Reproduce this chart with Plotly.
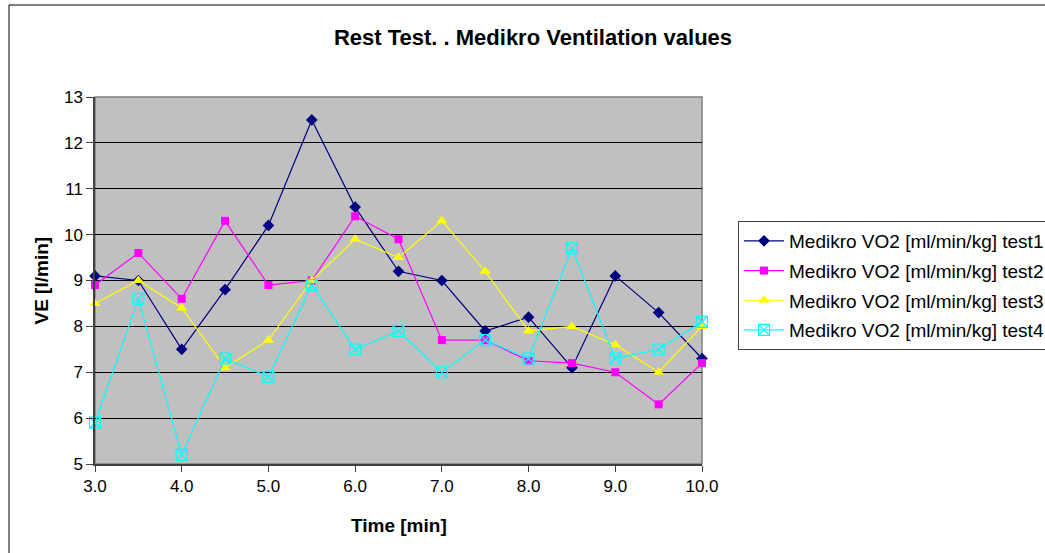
import plotly.graph_objects as go

time_min = [3.0, 3.5, 4.0, 4.5, 5.0, 5.5, 6.0, 6.5, 7.0, 7.5, 8.0, 8.5, 9.0, 9.5, 10.0]
test1 = [9.1, 9.0, 7.5, 8.8, 10.2, 12.5, 10.6, 9.2, 9.0, 7.9, 8.2, 7.1, 9.1, 8.3, 7.3]
test2 = [8.9, 9.6, 8.6, 10.3, 8.9, 9.0, 10.4, 9.9, 7.7, 7.7, 7.25, 7.2, 7.0, 6.3, 7.2]
test3 = [8.5, 9.0, 8.4, 7.1, 7.7, 9.0, 9.9, 9.5, 10.3, 9.2, 7.9, 8.0, 7.6, 7.0, 8.0]
test4 = [5.9, 8.6, 5.2, 7.3, 6.9, 8.9, 7.5, 7.9, 7.0, 7.7, 7.3, 9.7, 7.3, 7.5, 8.1]
names = ["Medikro VO2 [ml/min/kg] test1", "Medikro VO2 [ml/min/kg] test2",
         "Medikro VO2 [ml/min/kg] test3", "Medikro VO2 [ml/min/kg] test4"]

FONT = "Arial, Liberation Sans, sans-serif"

styles = [
    dict(color="#000080", symbol="diamond", size=9, lw=1.2),
    dict(color="#FF00FF", symbol="square", size=8, lw=1.2),
    dict(color="#FFFF00", symbol="triangle-up", size=10, lw=1.2),
    dict(color="#00FFFF", symbol="square-x-open", size=11, lw=1.2),
]

fig = go.Figure()
for i, (series, name, st) in enumerate(zip([test1, test2, test3, test4], names, styles)):
    marker = dict(symbol=st["symbol"], size=st["size"], color=st["color"])
    if st["symbol"].endswith("open"):
        marker["line"] = dict(color=st["color"], width=1.2)
    else:
        marker["line"] = dict(width=0)
    fig.add_trace(go.Scatter(
        x=time_min, y=series, name=name, mode="lines+markers",
        legendgroup="g%d" % i,
        line=dict(color=st["color"], width=st["lw"]),
        marker=marker, cliponaxis=False,
    ))

PL, PR, PT, PB = 95, 702, 97, 464
W, H = 1045, 553

def px_x(px):
    return (px - PL) / (PR - PL)

def px_y(py):
    return (PB - py) / (PB - PT)

fig.update_layout(
    width=W, height=H,
    margin=dict(l=PL, r=W - PR, t=PT, b=H - PB, pad=0, autoexpand=False),
    paper_bgcolor="white",
    plot_bgcolor="#C0C0C0",
    font=dict(family=FONT, size=17, color="black"),
    title=dict(text="<b>Rest Test. . Medikro Ventilation values</b>",
               x=533 / W, xanchor="center", y=1 - 37 / H, yanchor="middle",
               font=dict(family=FONT, size=22, color="black")),
    showlegend=True,
    legend=dict(x=px_x(738), y=px_y(221), xanchor="left", yanchor="top",
                bgcolor="white", bordercolor="#404040", borderwidth=1,
                font=dict(family=FONT, size=19, color="black"),
                itemwidth=40, tracegroupgap=2, traceorder="grouped"),
    xaxis=dict(range=[3, 10], dtick=1, tick0=3, tickformat=".1f",
               showgrid=False, zeroline=False,
               showline=True, linecolor="#404040", linewidth=1.5, mirror=False,
               ticks="outside", ticklen=6, tickcolor="#404040",
               tickfont=dict(family=FONT, size=17)),
    yaxis=dict(range=[5, 13], dtick=1, tick0=5,
               showgrid=True, gridcolor="#000000", gridwidth=1, zeroline=False,
               showline=True, linecolor="#404040", linewidth=1.5, mirror=False,
               ticks="outside", ticklen=7, tickcolor="#404040",
               tickfont=dict(family=FONT, size=17)),
    annotations=[
        dict(text="<b>Time [min]</b>", xref="paper", yref="paper",
             x=0.5, y=px_y(525), xanchor="center", yanchor="middle",
             showarrow=False, font=dict(family=FONT, size=19)),
        dict(text="<b>VE [l/min]</b>", xref="paper", yref="paper",
             x=px_x(41), y=0.5, xanchor="center", yanchor="middle", textangle=-90,
             showarrow=False, font=dict(family=FONT, size=19)),
    ],
    shapes=[
        dict(type="rect", xref="paper", yref="paper", x0=0, y0=0, x1=1, y1=1,
             line=dict(color="#808080", width=1.5), layer="below"),
        dict(type="rect", xref="paper", yref="paper",
             x0=px_x(9), y0=px_y(560), x1=px_x(1060), y1=px_y(5),
             line=dict(color="#000000", width=1)),
    ],
)

fig.write_html("out.html")
